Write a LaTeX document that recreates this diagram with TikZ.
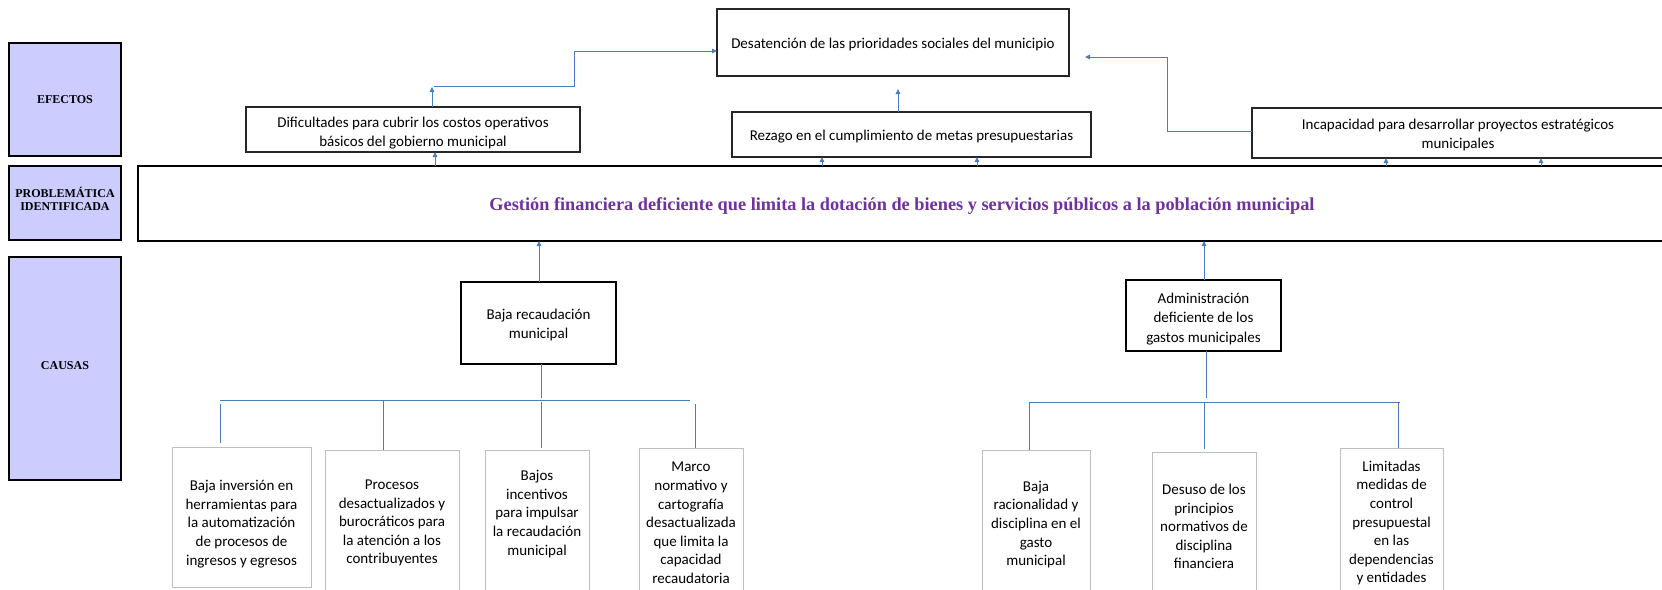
\documentclass[tikz,border=0pt]{standalone}
\usepackage{fontspec}
\setmainfont{Carlito}
\newfontfamily\labfont{Liberation Serif}
\usetikzlibrary{arrows.meta}
\definecolor{linkblue}{HTML}{4A7EBB}
\definecolor{lav}{HTML}{CCCCFF}
\definecolor{purp}{HTML}{7030A0}
\definecolor{gbox}{HTML}{BFBFBF}
\begin{document}
\begin{tikzpicture}[x=1pt,y=-1pt,
  every node/.style={inner sep=0pt,outer sep=0pt},
  labbox/.style={draw=black,line width=1.3pt,fill=lav},
  labtxt/.style={align=center,font=\labfont\bfseries\fontsize{12}{12.5}\selectfont},
  effbox/.style={draw=black!85,line width=1.1pt},
  efftxt/.style={align=center,font=\fontsize{15}{18.5}\selectfont},
  midbox/.style={draw=black,line width=2pt},
  midtxt/.style={align=center,font=\fontsize{15}{19.5}\selectfont},
  leaf/.style={draw=gbox,line width=1pt},
  leaftxt/.style={align=center,font=\fontsize{15}{18.6}\selectfont},
  link/.style={draw=linkblue,line width=1pt},
  arr/.style={link,-{Triangle[length=5pt,width=4.5pt]}},
]
\useasboundingbox (0,0) rectangle (1662,589);
\clip (0,0) rectangle (1662,589);

% left labels
\node[labbox,minimum width=112,minimum height=113] (labEf) at (65,99.5) {};
\node[labbox,minimum width=112,minimum height=74] (labPr) at (65,203) {};
\node[labbox,minimum width=112,minimum height=223] (labCa) at (65,368.5) {};
\node[labtxt] (labEfT) at (65,100) {EFECTOS};
\node[labtxt] (labPrT) at (65,199) {PROBLEMÁTICA\\IDENTIFICADA};
\node[labtxt] (labCaT) at (65,366) {CAUSAS};

% problem
\node[draw=black,line width=1.3pt,minimum width=1528,minimum height=75] (prob) at (902,203.5) {};
\node[font=\labfont\bfseries\fontsize{18.3}{21}\selectfont,text=purp] (probT) at (902,206)
  {Gestión financiera deficiente que limita la dotación de bienes y servicios públicos a la población municipal};

% effects
\node[effbox,minimum width=352,minimum height=67] (desat) at (893,42.5) {};
\node[efftxt] (desatT) at (893,44.5) {Desatención de las prioridades sociales del municipio};
\node[effbox,minimum width=334,minimum height=45] (dific) at (413,129.5) {};
\node[efftxt] (dificT) at (413,133) {Dificultades para cubrir los costos operativos\\básicos del gobierno municipal};
\node[effbox,minimum width=359,minimum height=45] (rezago) at (911.5,134.5) {};
\node[efftxt] (rezagoT) at (911.5,137) {Rezago en el cumplimiento de metas presupuestarias};
\node[effbox,minimum width=412,minimum height=50] (incap) at (1458,133) {};
\node[efftxt] (incapT) at (1458,135) {Incapacidad para desarrollar proyectos estratégicos\\municipales};

% mid causes
\node[midbox,minimum width=155,minimum height=82] (baja) at (538.5,323) {};
\node[midtxt] (bajaT) at (538.5,325) {Baja recaudación\\municipal};
\node[midbox,minimum width=155,minimum height=71] (admin) at (1203.5,315.5) {};
\node[midtxt] (adminT) at (1203.5,319) {Administración\\deficiente de los\\gastos municipales};

% leaf boxes
\node[leaf,minimum width=139,minimum height=140] (c1) at (241.5,517) {};
\node[leaf,minimum width=134,minimum height=146] (c2) at (392,523) {};
\node[leaf,minimum width=104,minimum height=146] (c3) at (537,523) {};
\node[leaf,minimum width=104,minimum height=147] (c4) at (691,521.5) {};
\node[leaf,minimum width=108,minimum height=146] (c5) at (1036,523) {};
\node[leaf,minimum width=104,minimum height=143] (c6) at (1204,523.5) {};
\node[leaf,minimum width=103,minimum height=147] (c7) at (1391.5,521.5) {};

\node[leaftxt] (t1) at (241.5,524) {Baja inversión en\\herramientas para\\la automatización\\de procesos de\\ingresos y egresos};
\node[leaftxt] (t2) at (392,523) {Procesos\\desactualizados y\\burocráticos para\\la atención a los\\contribuyentes};
\node[leaftxt] (t3) at (537,514) {Bajos\\incentivos\\para impulsar\\la recaudación\\municipal};
\node[leaftxt] (t4) at (691,523) {Marco\\normativo y\\cartografía\\desactualizada\\que limita la\\capacidad\\recaudatoria};
\node[leaftxt] (t5) at (1036,524.5) {Baja\\racionalidad y\\disciplina en el\\gasto\\municipal};
\node[leaftxt] (t6) at (1204,526.5) {Desuso de los\\principios\\normativos de\\disciplina\\financiera};
\node[leaftxt] (t7) at (1391.5,523) {Limitadas\\medidas de\\control\\presupuestal\\en las\\dependencias\\y entidades};

% effect connectors
\draw[arr] (prob.north -| 435,0) -- (dific.south -| 435,0);
\draw[arr] (prob.north -| 822,0) -- (rezago.south -| 822,0);
\draw[arr] (prob.north -| 977,0) -- (rezago.south -| 977,0);
\draw[arr] (prob.north -| 1386,0) -- (incap.south -| 1386,0);
\draw[arr] (prob.north -| 1541,0) -- (incap.south -| 1541,0);

\coordinate (k0) at (432,87);
\coordinate (k1) at (434,86);
\coordinate (k2) at (574,51);
\draw[arr] (dific.north -| k0) -- (k0);
\draw[arr] (k1) -| (k2) -- (desat.west |- k2);

\coordinate (k3) at (898,89);
\draw[arr] (rezago.north -| k3) -- (k3);

\coordinate (k4) at (1167,57);
\coordinate (k5) at (1085,57);
\draw[arr] (incap.west |- 0,131) -| (k4) -- (k5);

% cause connectors
\draw[arr] (baja.north -| 539,0) -- (prob.south -| 539,0);
\draw[arr] (admin.north -| 1204,0) -- (prob.south -| 1204,0);

\coordinate (bl0) at (541,398);
\coordinate (blA) at (220,400);
\coordinate (blB) at (690,400);
\draw[link] (baja.south -| bl0) -- (bl0);
\draw[link] (blA) -- (blB);
\draw[link] (220,404) -- ([yshift=4pt]c1.north -| 220,0);
\draw[link] (383,401) -- (c2.north -| 383,0);
\draw[link] (541,402) -- ([yshift=2pt]c3.north -| 541,0);
\draw[link] (695,404) -- (c4.north -| 695,0);

\coordinate (br0) at (1206,398);
\coordinate (brA) at (1030,402);
\coordinate (brB) at (1400,402);
\draw[link] (admin.south -| br0) -- (br0);
\draw[link] (brA) -- (brB);
\draw[link] (1029,402) -- (c5.north -| 1029,0);
\draw[link] (1204,402) -- ([yshift=3pt]c6.north -| 1204,0);
\draw[link] (1398,402) -- (c7.north -| 1398,0);
\end{tikzpicture}
\end{document}
